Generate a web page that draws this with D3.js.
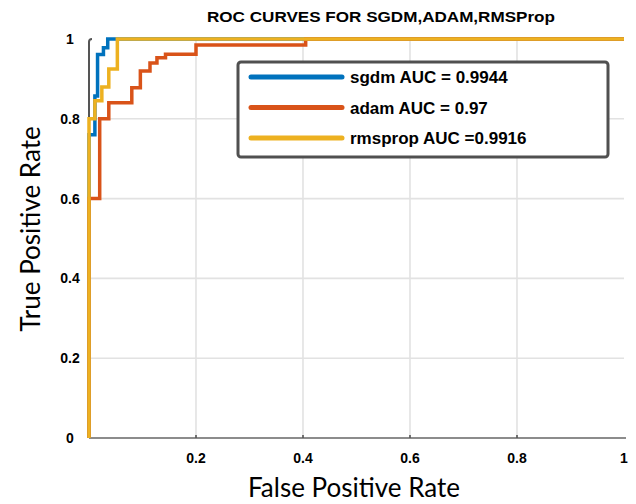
<!DOCTYPE html>
<html>
<head>
<meta charset="utf-8">
<script src="https://cdn.jsdelivr.net/npm/d3@7"></script>
<style>
  body { margin: 0; background: #fff; }
</style>
</head>
<body>
<svg></svg>
<script>
var svgWidth = 636;
var svgHeight = 504;

/* ROC points */
var sgdmFpr = [0, 0, 0.011, 0.011, 0.016, 0.016, 0.027, 0.027, 0.035, 0.035, 1];
var sgdmTpr = [0, 0.76, 0.76, 0.857, 0.857, 0.961, 0.961, 0.978, 0.978, 1, 1];

var adamFpr = [0, 0, 0.02, 0.02, 0.037, 0.037, 0.08, 0.08, 0.096, 0.096, 0.114, 0.114, 0.127, 0.127, 0.143, 0.143, 0.2, 0.2, 0.405, 0.405, 1];
var adamTpr = [0, 0.6, 0.6, 0.8, 0.8, 0.84, 0.84, 0.878, 0.878, 0.92, 0.92, 0.94, 0.94, 0.953, 0.953, 0.962, 0.962, 0.985, 0.985, 1, 1];

var rmspropFpr = [0, 0, 0.011, 0.011, 0.024, 0.024, 0.037, 0.037, 0.053, 0.053, 1];
var rmspropTpr = [0, 0.8, 0.8, 0.845, 0.845, 0.88, 0.88, 0.925, 0.925, 1, 1];

var seriesNames = ['sgdm AUC = 0.9944', 'adam AUC = 0.97', 'rmsprop AUC =0.9916'];
var seriesColors = ['#0072BD', '#D95319', '#EDB120'];
var tickValues = [0, 0.2, 0.4, 0.6, 0.8, 1];

var svg = d3.select('svg')
    .attr('width', svgWidth)
    .attr('height', svgHeight)
    .style('background', '#fff');

var x = d3.scaleLinear().domain([0, 1]).range([89, 624]);
var y = d3.scaleLinear().domain([0, 1]).range([438, 39]);

/* grid */
svg.selectAll('line.gx')
    .data(tickValues.slice(1, 5))
    .enter()
    .append('line')
    .attr('class', 'gx')
    .attr('x1', d => x(d)).attr('x2', d => x(d))
    .attr('y1', y(1)).attr('y2', y(0))
    .style('stroke', '#e2e2e2')
    .style('stroke-width', 1.6);

svg.selectAll('line.gy')
    .data(tickValues.slice(1, 5))
    .enter()
    .append('line')
    .attr('class', 'gy')
    .attr('x1', x(0)).attr('x2', x(1))
    .attr('y1', d => y(d)).attr('y2', d => y(d))
    .style('stroke', '#e2e2e2')
    .style('stroke-width', 1.6);

/* axes */
svg.append('line')
    .attr('x1', x(0)).attr('x2', x(1) + 2)
    .attr('y1', y(0)).attr('y2', y(0))
    .style('stroke', '#8c8c8c')
    .style('stroke-width', 2);

svg.selectAll('line.tx')
    .data(tickValues.slice(1, 5))
    .enter()
    .append('line')
    .attr('class', 'tx')
    .attr('x1', d => x(d)).attr('x2', d => x(d))
    .attr('y1', y(0)).attr('y2', y(0) - 3)
    .style('stroke', '#555')
    .style('stroke-width', 1.6);

svg.append('path')
    .attr('d', `M${x(0)},${y(0)} L${x(0)},${y(1) + 3} Q${x(0)},${y(1)} ${x(0) + 3},${y(1)}`)
    .style('fill', 'none')
    .style('stroke', '#555')
    .style('stroke-width', 2);

/* tick labels */
svg.selectAll('text.ty')
    .data(tickValues)
    .enter()
    .append('text')
    .attr('class', 'ty')
    .attr('x', 70)
    .attr('y', d => y(d) + 5)
    .attr('text-anchor', 'middle')
    .style('font-family', 'Liberation Sans, Arial, sans-serif')
    .style('font-weight', 'bold')
    .style('font-size', '14px')
    .text(d => d === 0 || d === 1 ? d : d.toFixed(1));

svg.selectAll('text.tx')
    .data(tickValues.slice(1))
    .enter()
    .append('text')
    .attr('class', 'tx')
    .attr('x', d => x(d))
    .attr('y', 463)
    .attr('text-anchor', 'middle')
    .style('font-family', 'Liberation Sans, Arial, sans-serif')
    .style('font-weight', 'bold')
    .style('font-size', '14px')
    .text(d => d === 1 ? d : d.toFixed(1));

/* curves */
var line = d3.line()
    .x(d => x(d[0]))
    .y(d => y(d[1]));

var curves = [
    d3.zip(sgdmFpr, sgdmTpr),
    d3.zip(adamFpr, adamTpr),
    d3.zip(rmspropFpr, rmspropTpr)
];

svg.selectAll('path.roc')
    .data(curves)
    .enter()
    .append('path')
    .attr('class', 'roc')
    .attr('d', line)
    .style('fill', 'none')
    .style('stroke', (d, i) => seriesColors[i])
    .style('stroke-width', 3.5)
    .style('stroke-linejoin', 'miter');

/* legend */
var legend = svg.append('g');
legend.append('rect')
    .attr('x', 238).attr('y', 62)
    .attr('width', 370).attr('height', 95)
    .attr('rx', 3)
    .style('fill', '#fff')
    .style('stroke', '#505050')
    .style('stroke-width', 3);

var legendRows = legend.selectAll('g.row')
    .data(seriesNames)
    .enter()
    .append('g')
    .attr('class', 'row')
    .attr('transform', (d, i) => `translate(0,${77 + i * 30.5})`);

legendRows.append('line')
    .attr('x1', 251).attr('x2', 342)
    .attr('y1', 0).attr('y2', 0)
    .style('stroke', (d, i) => seriesColors[i])
    .style('stroke-width', 5)
    .style('stroke-linecap', 'round');

legendRows.append('text')
    .attr('x', 350)
    .attr('y', 6)
    .style('font-family', 'Liberation Sans, Arial, sans-serif')
    .style('font-weight', 'bold')
    .style('font-size', '17px')
    .text(d => d);

/* title and axis labels */
svg.append('text')
    .attr('x', 381)
    .attr('y', 22)
    .attr('text-anchor', 'middle')
    .attr('textLength', 348)
    .attr('lengthAdjust', 'spacingAndGlyphs')
    .style('font-family', 'Liberation Sans, Arial, sans-serif')
    .style('font-weight', 'bold')
    .style('font-size', '15px')
    .text('ROC CURVES FOR SGDM,ADAM,RMSProp');

svg.append('text')
    .attr('x', 354)
    .attr('y', 497)
    .attr('text-anchor', 'middle')
    .style('font-family', 'Lato, Open Sans, sans-serif')
    .style('font-size', '26px')
    .text('False Positive Rate');

svg.append('text')
    .attr('transform', 'translate(40,229) rotate(-90)')
    .attr('text-anchor', 'middle')
    .style('font-family', 'Lato, Open Sans, sans-serif')
    .style('font-size', '26px')
    .text('True Positive Rate');
</script>
</body>
</html>
